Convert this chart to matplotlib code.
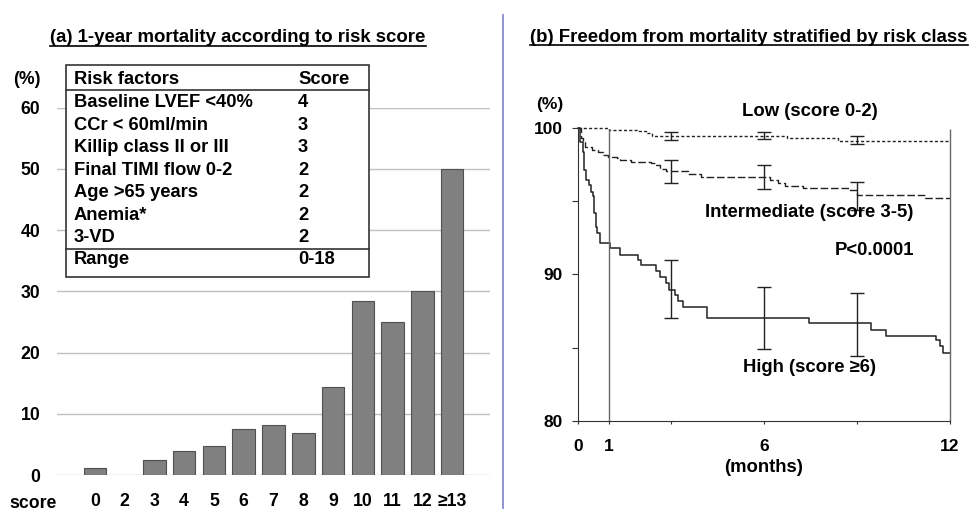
import numpy as np
import matplotlib
matplotlib.use('Agg')
from matplotlib import pyplot as plt
from matplotlib.lines import Line2D
from matplotlib.patches import Rectangle

plt.rcParams['font.family'] = ['Liberation Sans', 'DejaVu Sans']
plt.rcParams['font.weight'] = 'bold'

# (a) 1-year mortality by risk score
scores = ['0', '2', '3', '4', '5', '6', '7', '8', '9', '10', '11', '12', '\u226513']
mortality = [1.1, 0, 2.4, 3.9, 4.8, 7.5, 8.1, 6.8, 14.4, 28.5, 25, 30, 50]

factors = ['Baseline LVEF <40%', 'CCr < 60ml/min', 'Killip class II or III',
           'Final TIMI flow 0-2', 'Age >65 years', 'Anemia*', '3-VD']
factor_pts = ['4', '3', '3', '2', '2', '2', '2']

# (b) freedom from mortality, Kaplan-Meier steps
t_low = [0, 1.0, 1.9, 2.2, 2.4, 6.73, 8.4, 12]
s_low = [100, 99.85, 99.77, 99.6, 99.44, 99.26, 99.1, 99.1]

t_mid = [0, 0.1, 0.15, 0.22, 0.44, 0.66, 0.82, 0.98, 1.25, 1.35, 1.72, 2.37,
         2.47, 2.63, 2.85, 3.55, 3.98, 6.19, 6.46, 6.68, 7.27, 8.77, 8.99, 11.19, 12]
s_mid = [100, 99.3, 99.0, 98.7, 98.47, 98.35, 98.1, 98.0, 97.9, 97.78, 97.67, 97.56,
         97.44, 97.2, 97.03, 96.8, 96.63, 96.4, 96.2, 96.03, 95.85, 95.74, 95.4, 95.2, 95.2]

t_high = [0, 0.08, 0.15, 0.2, 0.26, 0.34, 0.41, 0.47, 0.52, 0.57, 0.62, 0.7, 1.02,
          1.35, 1.95, 2.02, 2.52, 2.63, 2.84, 2.92, 3.13, 3.23, 3.4, 4.17, 7.46,
          9.45, 9.94, 11.55, 11.68, 11.76, 12]
s_high = [100, 99.0, 98.3, 97.1, 96.4, 96.1, 95.6, 95.3, 94.2, 93.2, 92.8, 92.1, 91.8,
          91.3, 91.0, 90.6, 90.2, 89.8, 89.4, 88.9, 88.6, 88.2, 87.8, 87.0, 86.65,
          86.2, 85.8, 85.5, 85.1, 84.65, 84.65]

err_t = [3, 6, 9]
low_lo, low_hi = [99.15, 99.2, 98.85], [99.67, 99.67, 99.44]
mid_lo, mid_hi = [96.24, 95.8, 94.38], [97.78, 97.44, 96.3]
high_lo, high_hi = [87.0, 84.9, 84.45], [90.97, 89.1, 88.74]

W, H = 972, 512


def fx(px):
    return px / W


def fy(py):
    return 1 - py / H


fig = plt.figure(figsize=(W / 100, H / 100), dpi=100)

# ---- left panel ----
ax1 = fig.add_axes([fx(57), fy(475), fx(433), 367.3 / H])
pos = np.arange(len(scores))
vals = np.array(mortality, dtype=float)
keep = vals > 0
ax1.bar(pos[keep], vals[keep], width=0.76, color='#808080',
        edgecolor='#505050', linewidth=0.8, zorder=3)
ax1.set_xlim(-1.27, 13.27)
ax1.set_ylim(0, 60)
ax1.set_yticks(range(0, 61, 10))
ax1.set_xticks(pos)
ax1.set_xticklabels(scores)
ax1.yaxis.grid(True, color='#c0c0c0', linewidth=1)
ax1.set_axisbelow(True)
for s in ax1.spines.values():
    s.set_visible(False)
ax1.tick_params(axis='y', length=0, pad=12, labelsize=12.7)
ax1.tick_params(axis='x', length=0, pad=13, labelsize=12.7)
fig.text(fx(33), fy(503), 'score', ha='center', va='center', fontsize=12.7)
fig.text(fx(27), fy(80), '(%)', ha='center', va='center', fontsize=12.7)

# risk factor table
fig.add_artist(Rectangle((fx(66), fy(277)), fx(303), (277 - 65) / H,
                         facecolor='white', edgecolor='#333333', linewidth=1.2, zorder=5))
for yy in (90, 249):
    fig.add_artist(Line2D([fx(66), fx(369)], [fy(yy), fy(yy)], color='#333333',
                          linewidth=1.2, zorder=6))
rows_y = [80, 102.7, 125.3, 148, 170.3, 192.7, 215, 237.3, 260]
names = ['Risk factors'] + factors + ['Range']
pts = ['Score'] + factor_pts + ['0-18']
for yy, n, p in zip(rows_y, names, pts):
    fig.text(fx(74), fy(yy), n, ha='left', va='center', fontsize=13.2, zorder=7)
    fig.text(fx(298), fy(yy), p, ha='left', va='center', fontsize=13.2, zorder=7)

# ---- right panel ----
ax2 = fig.add_axes([fx(578), fy(421), fx(372), (421 - 127.5) / H])
ax2.step(t_low, s_low, where='post', color='#222222', linewidth=1,
         linestyle=(0, (2.2, 1.6)), clip_on=False)
ax2.step(t_mid, s_mid, where='post', color='#222222', linewidth=1,
         linestyle=(0, (5.5, 2)), clip_on=False)
ax2.step(t_high, s_high, where='post', color='#222222', linewidth=1.1, clip_on=False)
for lo, hi in ((low_lo, low_hi), (mid_lo, mid_hi), (high_lo, high_hi)):
    lo = np.array(lo)
    hi = np.array(hi)
    mid = (lo + hi) / 2
    ax2.errorbar(err_t, mid, yerr=[mid - lo, hi - mid], fmt='none',
                 ecolor='#222222', elinewidth=1, capsize=4.8, capthick=1)
ax2.vlines([1, 12], 80, 99.9, color='#666666', linewidth=1, clip_on=False)
ax2.set_xlim(0, 12)
ax2.set_ylim(80, 100)
ax2.set_xticks([0, 1, 3, 6, 9, 12])
ax2.set_xticklabels(['0', '1', '', '6', '', '12'])
ax2.set_yticks([80, 85, 90, 95, 100])
ax2.set_yticklabels(['80', '', '90', '', '100'])
ax2.spines['top'].set_visible(False)
ax2.spines['right'].set_visible(False)
ax2.spines['left'].set_color('#333333')
ax2.spines['bottom'].set_color('#333333')
ax2.tick_params(axis='y', length=4.3, pad=6.5, labelsize=12.5, color='#333333')
ax2.tick_params(axis='x', length=2.2, pad=11, labelsize=12.5, color='#333333')
ax2.text(7.48, 101.08, 'Low (score 0-2)', ha='center', va='center', fontsize=13.3)
ax2.text(7.45, 94.19, 'Intermediate (score 3-5)', ha='center', va='center', fontsize=13.3)
ax2.text(9.56, 91.65, 'P<0.0001', ha='center', va='center', fontsize=13.3)
ax2.text(7.48, 83.65, 'High (score \u22656)', ha='center', va='center', fontsize=13.3)
fig.text(fx(764), fy(468), '(months)', ha='center', va='center', fontsize=13.3)
fig.text(fx(550), fy(105), '(%)', ha='center', va='center', fontsize=12.5)

# titles with underline
t1 = fig.text(fx(238), fy(38), '(a) 1-year mortality according to risk score',
              ha='center', va='center', fontsize=13.4)
t2 = fig.text(fx(749), fy(37), '(b) Freedom from mortality stratified by risk class',
              ha='center', va='center', fontsize=13.4)

# separator
fig.add_artist(Line2D([fx(503.3), fx(503.3)], [fy(15), fy(508)], color='#8a8ad0',
                      linewidth=1.3))

fig.canvas.draw()
r = fig.canvas.get_renderer()
for t, uy in ((t1, 46), (t2, 44.5)):
    bb = t.get_window_extent(r)
    fig.add_artist(Line2D([bb.x0 / W, bb.x1 / W], [fy(uy), fy(uy)],
                          color='black', linewidth=1.2))

fig.savefig('out.png', dpi=100)
